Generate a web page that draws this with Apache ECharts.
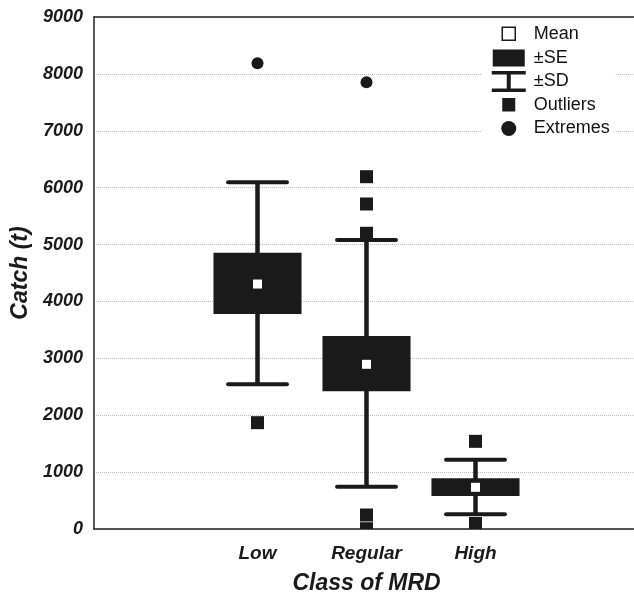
<!DOCTYPE html>
<html lang="en">
<head>
    <meta charset="UTF-8">
    <title>Catch by class of MRD</title>
    <style>
        * { margin: 0; padding: 0; }
        body { background: #fff; }
        #chart { width: 634px; height: 597px; }
    </style>
</head>
<body>
    <div id="chart"></div>
    <script src="https://cdn.jsdelivr.net/npm/echarts@6/dist/echarts.min.js"></script>
    <script>
        // category slots, the two outer ones are empty like in the original plot
        var categories = ['', 'Low', 'Regular', 'High', ''];
        var classIndex = [1, 2, 3];

        var meanValues = [4306, 2895, 733];
        var seLower = [3779, 2420, 580];
        var seUpper = [4857, 3393, 891];
        var sdLower = [2543, 744, 258];
        var sdUpper = [6094, 5080, 1218];

        // outliers / extremes as [class index, value]
        var outlierPoints = [[1, 1869], [2, 6193], [2, 5713], [2, 5198], [2, 246], [2, 5], [3, 1541], [3, 97]];
        var extremePoints = [[1, 8186], [2, 7852]];

        var yTicks = [0, 1000, 2000, 3000, 4000, 5000, 6000, 7000, 8000, 9000];

        var ink = '#1a1a1a';
        var font = "'Liberation Sans', Arial, sans-serif";

        var sdData = [], seData = [], meanData = [];
        for (var i = 0; i < classIndex.length; i++) {
            sdData.push([classIndex[i], sdLower[i], sdUpper[i]]);
            seData.push([classIndex[i], seLower[i], seUpper[i]]);
            meanData.push([classIndex[i], meanValues[i]]);
        }

        function renderSD(params, api) {
            var x = api.value(0);
            var top = api.coord([x, api.value(2)]);
            var bot = api.coord([x, api.value(1)]);
            var half = api.size([1, 0])[0] * 0.27;
            var st = { stroke: ink, lineWidth: 4, lineCap: 'round' };
            return {
                type: 'group',
                children: [
                    { type: 'line', shape: { x1: top[0], y1: top[1], x2: bot[0], y2: bot[1] }, style: { stroke: ink, lineWidth: 4.5 } },
                    { type: 'line', shape: { x1: top[0] - half, y1: top[1], x2: top[0] + half, y2: top[1] }, style: st },
                    { type: 'line', shape: { x1: bot[0] - half, y1: bot[1], x2: bot[0] + half, y2: bot[1] }, style: st }
                ]
            };
        }

        function renderSE(params, api) {
            var x = api.value(0);
            var top = api.coord([x, api.value(2)]);
            var bot = api.coord([x, api.value(1)]);
            var half = api.size([1, 0])[0] * 0.404;
            return {
                type: 'rect',
                shape: { x: top[0] - half, y: top[1], width: half * 2, height: bot[1] - top[1] },
                style: { fill: ink }
            };
        }

        function renderOutlier(params, api) {
            var p = api.coord([api.value(0), api.value(1)]);
            var s = 13;
            var rect = echarts.graphic.clipRectByRect(
                { x: p[0] - s / 2, y: p[1] - s / 2, width: s, height: s },
                { x: params.coordSys.x, y: params.coordSys.y, width: params.coordSys.width, height: params.coordSys.height }
            );
            return rect && { type: 'rect', shape: rect, style: { fill: ink } };
        }

        // legend icons, all in a 40x22 box (the two moveTo points fix the box)
        var box = 'M0,0 M40,22 ';
        var iconMean = 'path://' + box + 'M13.5,4.5 h13 v13 h-13 Z';
        var iconSE = 'path://' + box + 'M4,2.5 h32 v17 h-32 Z';
        var iconSD = 'path://' + box + 'M3,0.5 h34 v3.5 h-34 Z M18,4 h4 v14 h-4 Z M3,18 h34 v3.5 h-34 Z';
        var iconOut = 'path://' + box + 'M13.5,4 h13 v13.5 h-13 Z';
        var iconExt = 'path://' + box + 'M12.5,11 a7.5,7.5 0 1,0 15,0 a7.5,7.5 0 1,0 -15,0 Z';

        var chart = echarts.init(document.getElementById('chart'));

        var option = {
            animation: false,
            backgroundColor: '#fff',
            grid: { left: 94, top: 17, width: 545, height: 512, outerBoundsMode: 'none', containLabel: false },
            legend: {
                orient: 'vertical',
                left: 482,
                top: 20,
                padding: [2, 5, 6, 6],
                backgroundColor: '#fff',
                itemWidth: 40,
                itemHeight: 22,
                itemGap: 1.5,
                selectedMode: false,
                textStyle: { fontFamily: font, fontSize: 18, color: '#111' },
                data: [
                    { name: 'Mean', icon: iconMean, itemStyle: { color: '#fff', borderColor: ink, borderWidth: 1.5 } },
                    { name: '±SE', icon: iconSE, itemStyle: { color: ink } },
                    { name: '±SD', icon: iconSD, itemStyle: { color: ink } },
                    { name: 'Outliers', icon: iconOut, itemStyle: { color: ink } },
                    { name: 'Extremes', icon: iconExt, itemStyle: { color: ink } }
                ]
            },
            xAxis: [{
                type: 'category',
                data: categories,
                position: 'bottom',
                boundaryGap: true,
                name: 'Class of MRD',
                nameLocation: 'middle',
                nameGap: 43,
                nameTextStyle: { fontFamily: font, fontSize: 23, fontWeight: 'bold', fontStyle: 'italic', color: '#1a1a1a' },
                axisLine: { lineStyle: { color: '#222', width: 1.5 } },
                axisTick: { alignWithLabel: true, inside: true, length: 4, lineStyle: { color: '#222' } },
                axisLabel: { margin: 15, fontFamily: font, fontSize: 19, fontWeight: 'bold', fontStyle: 'italic', color: '#1a1a1a' },
                splitLine: { show: false }
            }, {
                type: 'category',
                data: categories,
                position: 'top',
                boundaryGap: true,
                axisLine: { lineStyle: { color: '#222', width: 1.5 } },
                axisTick: { alignWithLabel: true, inside: true, length: 4, lineStyle: { color: '#222' } },
                axisLabel: { show: false },
                splitLine: { show: false }
            }],
            yAxis: {
                type: 'value',
                min: yTicks[0],
                max: yTicks[yTicks.length - 1],
                interval: 1000,
                name: 'Catch (t)',
                nameLocation: 'middle',
                nameGap: 56,
                nameTextStyle: { fontFamily: font, fontSize: 23, fontWeight: 'bold', fontStyle: 'italic', color: '#1a1a1a' },
                axisLine: { show: true, lineStyle: { color: '#222', width: 1.5 } },
                axisTick: { show: false },
                axisLabel: {
                    margin: 11, fontFamily: font, fontSize: 18, fontWeight: 'bold', fontStyle: 'italic', color: '#1a1a1a',
                    formatter: function (v) { return String(v); }
                },
                splitLine: { show: true, lineStyle: { color: '#bbb', type: 'dotted', width: 1 } }
            },
            series: [
                { name: '±SD', type: 'custom', renderItem: renderSD, data: sdData, z: 2, encode: { x: 0, y: [1, 2] } },
                { name: '±SE', type: 'custom', renderItem: renderSE, data: seData, z: 3, encode: { x: 0, y: [1, 2] } },
                { name: 'Mean', type: 'scatter', symbol: 'rect', symbolSize: 9, data: meanData, z: 4, itemStyle: { color: '#fff', opacity: 1 } },
                { name: 'Outliers', type: 'custom', renderItem: renderOutlier, data: outlierPoints, z: 3, encode: { x: 0, y: 1 } },
                { name: 'Extremes', type: 'scatter', symbol: 'circle', symbolSize: 12, data: extremePoints, z: 3, itemStyle: { color: ink, opacity: 1 } }
            ]
        };

        chart.setOption(option);
    </script>
</body>
</html>
